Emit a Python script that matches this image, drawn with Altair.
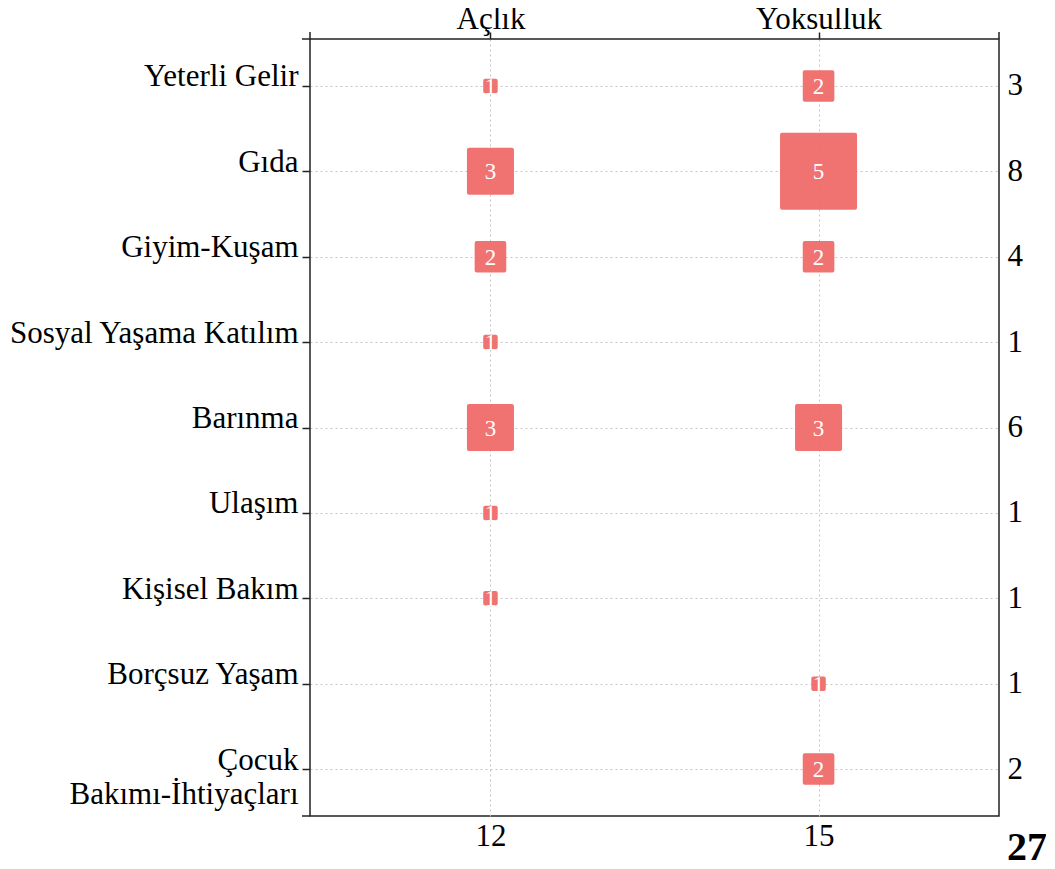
import json
import altair as alt
import pandas as pd

FONT = "Liberation Serif"

rows = ["Yeterli Gelir", "Gıda", "Giyim-Kuşam", "Sosyal Yaşama Katılım", "Barınma",
        "Ulaşım", "Kişisel Bakım", "Borçsuz Yaşam", "Çocuk\nBakımı-İhtiyaçları"]
cols = ["Açlık", "Yoksulluk"]
aclik = [1, 3, 2, 1, 3, 1, 1, None, None]
yoksulluk = [2, 5, 2, None, 3, None, None, 1, 2]
row_totals = [3, 8, 4, 1, 6, 1, 1, 1, 2]
col_totals = [12, 15]
grand_total = 27

recs = []
for r, a, y in zip(rows, aclik, yoksulluk):
    if a is not None:
        recs.append({"row": r, "col": cols[0], "value": a})
    if y is not None:
        recs.append({"row": r, "col": cols[1], "value": y})
df = pd.DataFrame(recs)

W, H = 689, 777
x_scale = alt.Scale(type="point", domain=cols, padding=0.55)
y_scale = alt.Scale(type="point", domain=rows, padding=0.55)


def ternary(names, vals):
    expr = "''"
    for n, v in reversed(list(zip(names, vals))):
        expr = f"datum.value === {json.dumps(n, ensure_ascii=False)} ? '{v}' : ({expr})"
    return expr


LINE = "#222222"
FS = 31
GRID = dict(grid=True, gridColor="#c4c4c4", gridDash=[2, 3], gridWidth=1)

top_axis = alt.Axis(orient="top", title=None, labelFont=FONT, labelFontSize=FS, labelColor="black",
                    labelBaseline="alphabetic", labelPadding=4, labelAngle=0, tickSize=7,
                    tickColor=LINE, tickWidth=1.5, domain=False, **GRID)
left_axis = alt.Axis(orient="left", title=None, labelFont=FONT, labelFontSize=FS, labelColor="black",
                     labelAlign="right", labelBaseline="alphabetic", labelPadding=4, labelLimit=0,
                     labelExpr="split(datum.value, '\\n')", labelLineHeight=34,
                     tickSize=8, tickColor=LINE, tickWidth=1.5, domain=False, **GRID)
bottom_axis = alt.Axis(orient="bottom", title=None, labelFont=FONT, labelFontSize=FS, labelColor="black",
                       labelBaseline="alphabetic", labelPadding=29, labelAngle=0,
                       labelExpr=ternary(cols, col_totals), ticks=False, tickSize=0,
                       domain=False, grid=False)
right_axis = alt.Axis(orient="right", title=None, labelFont=FONT, labelFontSize=FS, labelColor="black",
                      labelAlign="left", labelBaseline="middle", labelPadding=8,
                      labelExpr=ternary(rows, row_totals), ticks=False, tickSize=0,
                      domain=False, grid=False)

COLOR = "#ef6865"

squares = alt.Chart(df).mark_square(
    filled=True, color=COLOR, stroke=COLOR, strokeWidth=4, strokeJoin="round", opacity=0.92
).encode(
    x=alt.X("col:N", scale=x_scale, axis=top_axis),
    y=alt.Y("row:N", scale=y_scale, axis=left_axis),
    size=alt.Size("value:Q", scale=alt.Scale(type="pow", exponent=2, domain=[1, 5],
                                             range=[110, 5329], zero=False), legend=None),
)

labels = alt.Chart(df).mark_text(
    font=FONT, fontSize=23, color="white", baseline="middle", dy=1
).encode(
    x=alt.X("col:N", scale=x_scale, axis=None),
    y=alt.Y("row:N", scale=y_scale, axis=None),
    text="value:Q",
)

axes2 = alt.Chart(df).mark_point(opacity=0).encode(
    x=alt.X("col:N", scale=x_scale, axis=bottom_axis),
    y=alt.Y("row:N", scale=y_scale, axis=right_axis),
)

one = alt.Data(values=[{"k": 1}])
ext = [
    alt.Chart(one).mark_rule(color=LINE, strokeWidth=1.5).encode(x=alt.value(0), y=alt.value(-7), y2=alt.value(0)),
    alt.Chart(one).mark_rule(color=LINE, strokeWidth=1.5).encode(x=alt.value(W), y=alt.value(-7), y2=alt.value(0)),
    alt.Chart(one).mark_rule(color=LINE, strokeWidth=1.5).encode(x=alt.value(-8), x2=alt.value(0), y=alt.value(0)),
    alt.Chart(one).mark_rule(color=LINE, strokeWidth=1.5).encode(x=alt.value(-8), x2=alt.value(0), y=alt.value(H)),
]

total = alt.Chart(alt.Data(values=[{"t": grand_total}])).mark_text(
    font=FONT, fontSize=40, fontWeight="bold", align="left", baseline="alphabetic", color="black"
).encode(text="t:Q", x=alt.value(W + 8), y=alt.value(H + 44))

chart = alt.layer(squares, labels, axes2, *ext, total).resolve_axis(
    x="independent", y="independent"
).properties(
    width=W, height=H,
    padding={"left": 302, "top": 31, "right": 47, "bottom": 45},
    autosize=alt.AutoSizeParams(type="none"),
).configure_view(stroke=LINE, strokeWidth=1.5).configure_text(font=FONT)

chart.save("out.html", embed_options={"renderer": "svg", "actions": False})
